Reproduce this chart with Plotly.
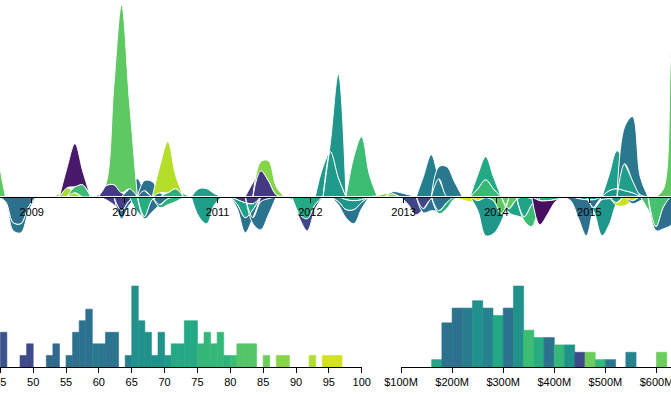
import datetime as dt
import plotly.graph_objects as go

# ---------------- stream layers (monthly thickness) ----------------
layer_start = [
    "2008-06", "2008-09", "2008-09", "2009-04", "2009-06", "2009-05", "2009-09", "2010-01",
    "2009-10", "2010-03", "2010-06", "2010-05", "2009-10", "2009-12", "2010-02", "2010-03",
    "2010-05", "2010-10", "2010-10", "2011-03", "2011-03", "2011-03", "2011-05", "2011-05",
    "2011-06", "2011-10", "2011-11", "2012-02", "2012-03", "2012-06", "2012-05", "2012-04",
    "2012-04", "2012-09", "2012-11", "2013-01", "2013-03", "2013-05", "2013-03", "2013-05",
    "2013-08", "2013-10", "2013-10", "2013-12", "2013-10", "2014-05", "2014-02", "2014-04",
    "2014-06", "2014-11", "2014-10", "2015-01", "2015-04", "2015-06", "2015-08", "2015-09",
    "2015-02", "2015-03", "2015-05", "2015-10",
]
layer_values = [
    [70, 150, 45], [-5, -26, -27, -10], [-1, -8, -9, -4], [3, 9, 4], [6, 12, 2], [20, 43, 14],
    [2, 11, 12, 4], [8, 18, 6], [2, 100, 188, 88], [10, 15, 4], [4, 8, 3], [27, 51, 14],
    [-3, -8, -14, -4], [-8, -4], [-15, -20, -3], [-2, -12, -8, -2], [-3, -6, -5, -1],
    [8, 8, 3], [-20, -27, -8], [-3, -6, -7, -5, -2], [-5, -15, -6], [-4, -15, -8],
    [-6, -28, -16], [14, 26, 16, 2], [9, 20, 8], [-3, -18, -22, -8], [-4, -12, -4],
    [30, 45, 19], [10, 104], [40, 60, 22], [-3, -4, -3], [-5, -10, -9, -3], [-3, -8, -14, -6],
    [1, 3, 3], [2, 4, 2], [-8, -18, -12, -2], [20, 42, 18], [12, 30, 15], [-4, -12, -14, -6],
    [-3, -6, -2], [-3, -5, -4, -1], [8, 17, 8], [14, 23, 12], [-4, -17, -12, -3],
    [-10, -38, -33, -8], [-2, -4, -4, -3, -1], [-4, -16, -20, -6], [-4, -22], [-24, -14, -2],
    [-2, -3, -3, -3, -2], [-4, -20, -36, -8], [-4, -36, -26, -6], [-3, -9, -4], [-3, -4, -1],
    [-12, -30, -10], [-4, -22, -28, -10], [1, 6, 8, 6, 4, 2], [16, 38, 27, 12], [37, 64, 18],
    [8, 150, 200, 120],
]
layer_colors = [
    "#5ec962", "#2d708e", "#2a788e", "#a8db34", "#3bbb75", "#48186a", "#443b84", "#2e6f8e",
    "#5ec962", "#2c728e", "#29af7f", "#b5de2b", "#433e85", "#2e6e8e", "#27ad81", "#2d718e",
    "#2db27d", "#1f9e89", "#1f9e89", "#443a83", "#1fa187", "#2c728e", "#2b748e", "#443983",
    "#86d549", "#23a983", "#3f4788", "#1f9a8a", "#1f958b", "#3dbc74", "#25a983", "#1f968b",
    "#2c738e", "#86d549", "#2d708e", "#404588", "#237f8e", "#2a788e", "#2c728e", "#2db27d",
    "#dde318", "#38b977", "#23a983", "#5ec962", "#1f978b", "#2db27d", "#20a386", "#3dbc74",
    "#470e61", "#21918c", "#2d718e", "#1f978b", "#cde11d", "#2c728e", "#48c16e", "#2d708e",
    "#1f968b", "#1f9e89", "#2a788e", "#5ec962",
]
year_ticks = ["2009", "2010", "2011", "2012", "2013", "2014", "2015"]

# ---------------- histogram: ratings ----------------
rating_bins = [45, 48, 49, 52, 53, 55, 56, 57, 58, 59, 60, 61, 62, 64, 65, 66, 67, 68, 69, 70,
               71, 72, 73, 74, 75, 76, 77, 78, 79, 80, 81, 82, 83, 85, 87, 88, 92, 94, 95, 96]
rating_counts = [3, 1, 2, 1, 2, 1, 3, 4, 5, 2, 2, 3, 3, 1, 7, 4, 3, 1, 3, 1,
                 2, 2, 4, 4, 2, 3, 2, 3, 1, 1, 2, 2, 2, 1, 1, 1, 1, 1, 1, 1]
rating_colors = ["#3b528b", "#3e4a89", "#3e4a89", "#306a8e", "#306a8e", "#2c728e", "#2c728e",
                 "#2c728e", "#2c728e", "#2a788e", "#2a788e", "#2c738e", "#2c738e", "#27808e",
                 "#21918c", "#21918c", "#21918c", "#21918c", "#21918c", "#1f998a", "#23a983",
                 "#23a983", "#23a983", "#23a983", "#35b779", "#35b779", "#35b779", "#35b779",
                 "#2eb37c", "#3dbc74", "#54c568", "#54c568", "#54c568", "#6ccd5a", "#86d549",
                 "#86d549", "#b0dd2f", "#d2e21b", "#d2e21b", "#d2e21b"]
rating_ticks = [45, 50, 55, 60, 65, 70, 75, 80, 85, 90, 95, 100]

# ---------------- histogram: budgets ($M) ----------------
budget_bins = [160, 180, 200, 220, 240, 260, 280, 300, 320, 340, 360, 380, 400, 420, 440, 460,
               480, 500, 540, 600]
budget_counts = [1, 6, 8, 8, 9, 8, 7, 8, 11, 5, 4, 4, 3, 3, 2, 2, 1, 1, 2, 2]
budget_colors = ["#22a884", "#2c728e", "#2c728e", "#287c8e", "#21918c", "#26828e", "#22a884",
                 "#2c728e", "#21918c", "#3dbc74", "#27ad81", "#2c728e", "#35b779", "#20928c",
                 "#3e4a89", "#6ccd5a", "#35b779", "#2a788e", "#25848e", "#6ccd5a"]
budget_ticks = [100, 200, 300, 400, 500, 600]


def month_index(s):
    y, m = map(int, s.split("-"))
    return (y - 2009) * 12 + (m - 1)


def month_date(k):
    return f"{2009 + k // 12:04d}-{k % 12 + 1:02d}-20"


# diverging stack (positive up, negative down, zero collapses to the baseline)
pos, neg = {}, {}
fig = go.Figure()
for start, vals, col in zip(layer_start, layer_values, layer_colors):
    k0 = month_index(start)
    ser = {k0 + i: v for i, v in enumerate(vals)}
    ks = list(range(k0 - 1, k0 + len(vals) + 1))
    y0s, y1s = [], []
    for k in ks:
        v = ser.get(k, 0)
        if v > 0:
            b = pos.get(k, 0)
            y0, y1 = b, b + v
            pos[k] = y1
        elif v < 0:
            b = neg.get(k, 0)
            y0, y1 = b + v, b
            neg[k] = y0
        else:
            y0 = y1 = 0
        y0s.append(y0)
        y1s.append(y1)
    xs = [month_date(k) for k in ks]
    fig.add_trace(go.Scatter(x=xs, y=y0s, mode="lines", line=dict(color="white", width=1, shape="spline"),
                             hoverinfo="skip", xaxis="x", yaxis="y"))
    fig.add_trace(go.Scatter(x=xs, y=y1s, mode="lines", fill="tonexty", fillcolor=col,
                             line=dict(color="white", width=1, shape="spline"),
                             hoverinfo="skip", xaxis="x", yaxis="y"))

fig.add_trace(go.Bar(x=[b + 0.5 for b in rating_bins], y=rating_counts, width=1,
                     marker=dict(color=rating_colors, line=dict(width=0.6, color=rating_colors)),
                     xaxis="x2", yaxis="y2"))
fig.add_trace(go.Bar(x=[b + 10 for b in budget_bins], y=budget_counts, width=20,
                     marker=dict(color=budget_colors, line=dict(width=0.6, color=budget_colors)),
                     xaxis="x3", yaxis="y3"))

W, H = 671, 395
px_per_day = (589.3 - 31.7) / (dt.date(2015, 1, 1) - dt.date(2009, 1, 1)).days
x_start = dt.datetime(2009, 1, 1) - dt.timedelta(days=31.7 / px_per_day)
x_end = dt.datetime(2015, 1, 1) + dt.timedelta(days=(W - 589.3) / px_per_day)

axis_font = dict(family="Liberation Sans, Arial, sans-serif", size=11, color="black")
common = dict(showline=True, linecolor="black", linewidth=1, ticks="outside", ticklen=5,
              tickwidth=1, tickcolor="black", showgrid=False, zeroline=False, tickfont=axis_font,
              fixedrange=True, automargin=False)

fig.update_layout(
    width=W, height=H, margin=dict(l=0, r=0, t=0, b=0, pad=0, autoexpand=False),
    paper_bgcolor="white", plot_bgcolor="white", showlegend=False,
    xaxis=dict(type="date", domain=[0, 1], range=[x_start, x_end], anchor="free",
               position=(H - 196.7) / H,
               tickvals=[f"{y}-01-01" for y in year_ticks], ticktext=year_ticks, **common),
    yaxis=dict(domain=[150 / H, 1], range=[-48.3, 196.7], visible=False, fixedrange=True),
    xaxis2=dict(domain=[0, 361.7 / W], range=[44.95, 100], anchor="y2",
                tickvals=rating_ticks, ticktext=[str(t) for t in rating_ticks],
                ticklabeloverflow="allow", **common),
    yaxis2=dict(domain=[28 / H, 125 / H], range=[0, max(rating_counts) * 97 / 81], visible=False,
                fixedrange=True),
    xaxis3=dict(domain=[401 / W, 1], range=[100, 100 + 270 / 0.511], anchor="y3",
                tickvals=budget_ticks, ticktext=[f"${t}M" for t in budget_ticks],
                ticklabeloverflow="allow", **common),
    yaxis3=dict(domain=[28 / H, 125 / H], range=[0, max(budget_counts) * 97 / 81], visible=False,
                fixedrange=True),
)

fig.write_html("out.html", config={"displayModeBar": False},
               post_script="document.body.style.margin='0';document.body.style.overflow='hidden';")
